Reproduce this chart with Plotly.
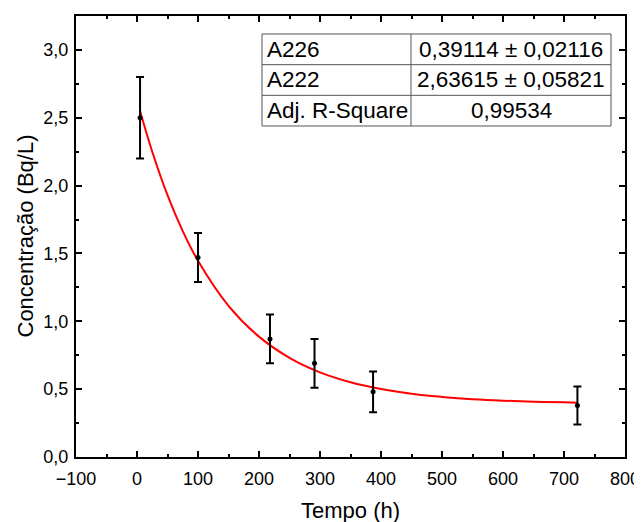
import plotly.graph_objects as go

# Measured data
tempo = [5, 100, 218, 291, 387, 722]
conc = [2.50, 1.47, 0.87, 0.69, 0.48, 0.38]
erro = [0.30, 0.18, 0.18, 0.18, 0.15, 0.14]

# Fit curve
fit_t = [5, 25, 50, 75, 100, 150, 200, 250, 300, 350, 400, 450, 500, 550, 600, 650, 700, 722]
fit_c = [2.55, 2.25, 1.93, 1.665, 1.446, 1.114, 0.887, 0.731, 0.624, 0.551, 0.501,
         0.466, 0.443, 0.426, 0.415, 0.408, 0.403, 0.400]

# Fit table
table_labels = ["A226", "A222", "Adj. R-Square"]
table_values = ["0,39114 ± 0,02116", "2,63615 ± 0,05821", "0,99534"]

x_title = "Tempo (h)"
y_title = "Concentração (Bq/L)"

FONT = "Liberation Sans, Arial, sans-serif"
OFF = 8  # default page body margin
W, H = 642 - OFF, 522 - OFF
ML, MR, MT, MB = 76 - OFF, 17, 16 - OFF, 65
PW, PH = W - ML - MR, H - MT - MB

fig = go.Figure()
fig.add_trace(go.Scatter(
    x=fit_t, y=fit_c, mode="lines", line=dict(color="red", width=2, shape="spline"),
    showlegend=False, hoverinfo="skip"))
fig.add_trace(go.Scatter(
    x=tempo, y=conc, mode="markers",
    marker=dict(color="black", size=5),
    error_y=dict(type="data", array=erro, visible=True, color="black", thickness=2, width=4),
    showlegend=False))

axis_common = dict(
    showline=True, linecolor="black", linewidth=2, mirror="ticks",
    ticks="inside", ticklen=6, tickwidth=1.5, tickcolor="black",
    showgrid=False, zeroline=False, automargin=False,
    tickfont=dict(family=FONT, size=18, color="black"),
)

fig.update_xaxes(
    range=[-100, 800], dtick=100, tick0=0, ticklabelstandoff=4,
    minor=dict(ticks="inside", ticklen=3, dtick=50, tickcolor="black", tickwidth=1.5),
    **axis_common)
fig.update_yaxes(
    range=[0, 3.25], dtick=0.5, tick0=0, tickformat=".1f", ticklabelstandoff=2,
    minor=dict(ticks="inside", ticklen=3, dtick=0.25, tickcolor="black", tickwidth=1.5),
    **axis_common)

# Table geometry in paper coordinates
x0, xm, x1 = 0.3388, 0.6102, 0.9745
y_top, y_bot = 0.9592, 0.7506
n = len(table_labels)
rh = (y_top - y_bot) / n
shapes = [dict(type="rect", xref="paper", yref="paper", x0=x0, x1=x1, y0=y_bot, y1=y_top,
               line=dict(color="#555555", width=1), fillcolor="white", layer="above")]
shapes.append(dict(type="line", xref="paper", yref="paper", x0=xm, x1=xm, y0=y_bot, y1=y_top,
                   line=dict(color="#555555", width=1)))
for i in range(1, n):
    yy = y_top - i * rh
    shapes.append(dict(type="line", xref="paper", yref="paper", x0=x0, x1=x1, y0=yy, y1=yy,
                       line=dict(color="#555555", width=1)))
annotations = []
for i, (lab, val) in enumerate(zip(table_labels, table_values)):
    yc = y_top - (i + 0.5) * rh
    annotations.append(dict(xref="paper", yref="paper", x=x0 + 0.005, y=yc, text=lab,
                            xanchor="left", yanchor="middle", showarrow=False,
                            font=dict(family=FONT, size=22.5, color="black")))
    annotations.append(dict(xref="paper", yref="paper", x=(xm + x1) / 2, y=yc, text=val,
                            xanchor="center", yanchor="middle", showarrow=False,
                            font=dict(family=FONT, size=22.5, color="black")))

# Axis titles placed as annotations (page pixel positions from the reference)
plot_bottom_page = OFF + H - MB
plot_left_page = OFF + ML
annotations.append(dict(xref="paper", yref="paper", x=0.5, y=-(510 - plot_bottom_page) / PH,
                        text=x_title, showarrow=False, xanchor="center", yanchor="middle",
                        font=dict(family=FONT, size=22, color="black")))
annotations.append(dict(xref="paper", yref="paper", x=-(plot_left_page - 25) / PW, y=0.5,
                        text=y_title, textangle=-90, showarrow=False,
                        xanchor="center", yanchor="middle",
                        font=dict(family=FONT, size=22, color="black")))

fig.update_layout(
    width=W, height=H, autosize=False,
    margin=dict(l=ML, r=MR, t=MT, b=MB),
    paper_bgcolor="white", plot_bgcolor="white",
    separators=", ",
    shapes=shapes, annotations=annotations,
    font=dict(family=FONT, color="black"),
)

fig.write_html("out.html")
